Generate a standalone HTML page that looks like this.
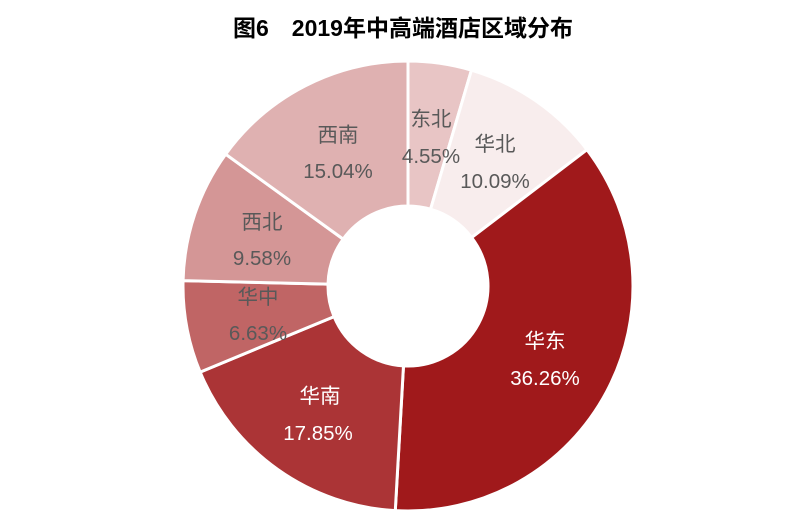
<!DOCTYPE html>
<html><head><meta charset="utf-8"><style>
html,body{margin:0;padding:0;background:#fff;width:800px;height:522px;overflow:hidden}
svg{display:block}
.l{font-family:"Liberation Sans","Noto Sans CJK SC",sans-serif;font-size:20.5px;text-anchor:middle}
</style></head><body>
<svg id="s" width="800" height="522" xmlns="http://www.w3.org/2000/svg">
<text x="403" y="36" style="font-family:'Liberation Sans','Noto Sans CJK SC',sans-serif;font-size:23px;font-weight:bold;text-anchor:middle" fill="#000">图6　2019年中高端酒店区域分布</text>
<g id="slices"></g>
<g class="l" fill="#595959">
<text x="431" y="126">东北</text><text x="431" y="163">4.55%</text>
<text x="495" y="151">华北</text><text x="495" y="188">10.09%</text>
<text x="338" y="142">西南</text><text x="338" y="178">15.04%</text>
<text x="262" y="229">西北</text><text x="262" y="265">9.58%</text>
<text x="258" y="304">华中</text><text x="258" y="340">6.63%</text>
</g>
<g class="l" fill="#ffffff">
<text x="545" y="348">华东</text><text x="545" y="385">36.26%</text>
<text x="320" y="403">华南</text><text x="318" y="440">17.85%</text>
</g>
</svg>
<script>
(function(){
var d=[[4.55,"#e8c5c5"],[10.09,"#f8eded"],[36.26,"#a0191b"],[17.85,"#ab3436"],[6.63,"#c06565"],[9.58,"#d49696"],[15.04,"#dfb1b1"]];
var cx=408,cy=286,R=225,r=80,a=0,g=document.getElementById("slices"),h="";
function p(ang,rad){var t=ang/100*2*Math.PI;return [cx+rad*Math.sin(t),cy-rad*Math.cos(t)];}
d.forEach(function(s){var b=a+s[0],L=s[0]>50?1:0;var p1=p(a,R),p2=p(b,R),p3=p(b,r),p4=p(a,r);
h+='<path d="M'+p1+' A'+R+','+R+' 0 '+L+' 1 '+p2+' L'+p3+' A'+r+','+r+' 0 '+L+' 0 '+p4+'Z" fill="'+s[1]+'" stroke="#fff" stroke-width="3" stroke-linejoin="round"/>';a=b;});
g.innerHTML=h;})();
</script>
</body></html>
